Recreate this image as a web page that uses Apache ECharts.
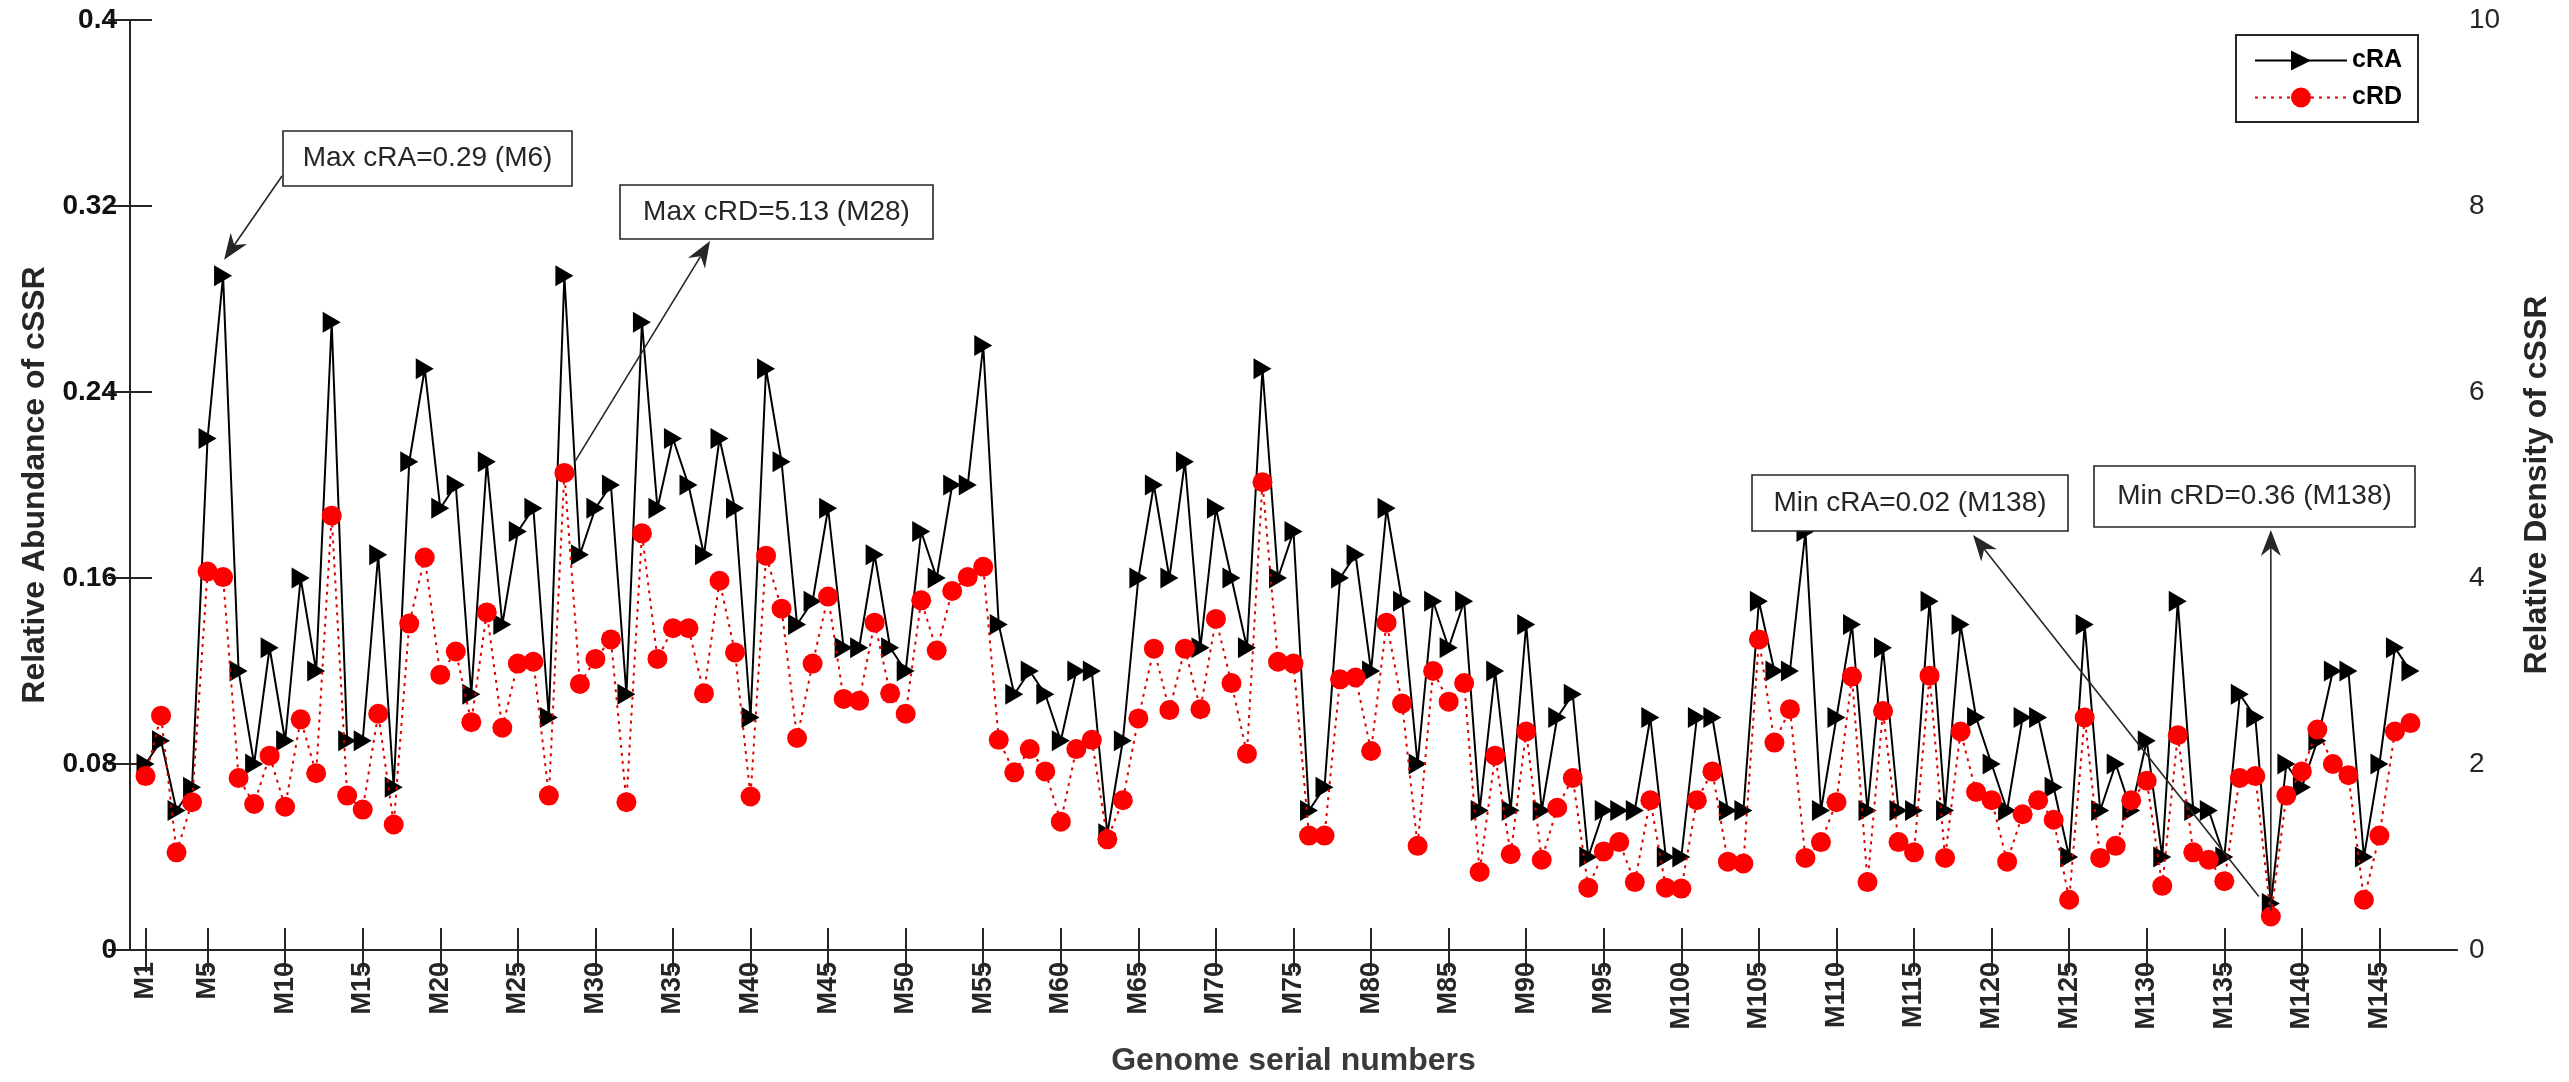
<!DOCTYPE html>
<html>
<head>
<meta charset="utf-8">
<title>cRA / cRD</title>
<script src="https://cdn.jsdelivr.net/npm/echarts@6/dist/echarts.min.js"></script>
<style>
  html, body { margin: 0; padding: 0; background: #fff; }
  #chart { width: 2569px; height: 1082px; }
</style>
</head>
<body>
<div id="chart"></div>
<script>
// relative abundance (left axis), genomes M1..M147
const craValues = [
  0.08, 0.09, 0.06, 0.07, 0.22, 0.29, 0.12, 0.08, 0.13, 0.09,
  0.16, 0.12, 0.27, 0.09, 0.09, 0.17, 0.07, 0.21, 0.25, 0.19,
  0.20, 0.11, 0.21, 0.14, 0.18, 0.19, 0.10, 0.29, 0.17, 0.19,
  0.20, 0.11, 0.27, 0.19, 0.22, 0.20, 0.17, 0.22, 0.19, 0.10,
  0.25, 0.21, 0.14, 0.15, 0.19, 0.13, 0.13, 0.17, 0.13, 0.12,
  0.18, 0.16, 0.20, 0.20, 0.26, 0.14, 0.11, 0.12, 0.11, 0.09,
  0.12, 0.12, 0.05, 0.09, 0.16, 0.20, 0.16, 0.21, 0.13, 0.19,
  0.16, 0.13, 0.25, 0.16, 0.18, 0.06, 0.07, 0.16, 0.17, 0.12,
  0.19, 0.15, 0.08, 0.15, 0.13, 0.15, 0.06, 0.12, 0.06, 0.14,
  0.06, 0.10, 0.11, 0.04, 0.06, 0.06, 0.06, 0.10, 0.04, 0.04,
  0.10, 0.10, 0.06, 0.06, 0.15, 0.12, 0.12, 0.18, 0.06, 0.10,
  0.14, 0.06, 0.13, 0.06, 0.06, 0.15, 0.06, 0.14, 0.10, 0.08,
  0.06, 0.10, 0.10, 0.07, 0.04, 0.14, 0.06, 0.08, 0.06, 0.09,
  0.04, 0.15, 0.06, 0.06, 0.04, 0.11, 0.10, 0.02, 0.08, 0.07,
  0.09, 0.12, 0.12, 0.04, 0.08, 0.13, 0.12
];

// relative density (right axis)
const crdValues = [
  1.87, 2.52, 1.05, 1.59, 4.07, 4.01, 1.85, 1.57, 2.09, 1.54,
  2.48, 1.90, 4.67, 1.66, 1.51, 2.54, 1.35, 3.51, 4.22, 2.96,
  3.21, 2.45, 3.63, 2.39, 3.08, 3.10, 1.66, 5.13, 2.86, 3.13,
  3.34, 1.59, 4.48, 3.13, 3.46, 3.46, 2.76, 3.97, 3.20, 1.65,
  4.24, 3.67, 2.28, 3.08, 3.80, 2.70, 2.68, 3.52, 2.76, 2.54,
  3.76, 3.22, 3.86, 4.01, 4.12, 2.26, 1.91, 2.16, 1.92, 1.38,
  2.16, 2.26, 1.19, 1.61, 2.49, 3.24, 2.58, 3.24, 2.59, 3.56,
  2.87, 2.11, 5.03, 3.10, 3.08, 1.23, 1.23, 2.91, 2.93, 2.14,
  3.52, 2.65, 1.12, 3.00, 2.67, 2.87, 0.84, 2.09, 1.03, 2.35,
  0.97, 1.53, 1.85, 0.67, 1.06, 1.16, 0.73, 1.61, 0.67, 0.66,
  1.61, 1.92, 0.95, 0.93, 3.34, 2.23, 2.59, 0.99, 1.16, 1.59,
  2.94, 0.73, 2.57, 1.16, 1.05, 2.95, 0.99, 2.35, 1.70, 1.61,
  0.95, 1.46, 1.61, 1.40, 0.54, 2.50, 0.99, 1.12, 1.61, 1.82,
  0.69, 2.31, 1.05, 0.97, 0.74, 1.85, 1.87, 0.36, 1.66, 1.92,
  2.37, 2.00, 1.88, 0.54, 1.23, 2.35, 2.44
];

// genome numbers that get a tick + label
const tickGenomes = [1, 5, 10, 15, 20, 25, 30, 35, 40, 45, 50, 55, 60, 65, 70, 75,
  80, 85, 90, 95, 100, 105, 110, 115, 120, 125, 130, 135, 140, 145];

const font = '"Liberation Sans", Arial, Helvetica, sans-serif';
const ink = '#262626';

const craPoints = craValues.map((v, i) => [i + 1, v]);
const crdPoints = crdValues.map((v, i) => [i + 1, v]);

// inward ticks on every side, MATLAB box style
const tickIn = () => ({ show: true, inside: true, length: 22, lineStyle: { color: ink, width: 2 } });
const lineAxis = { show: true, lineStyle: { color: ink, width: 2 } };

const option = {
  backgroundColor: '#fff',
  animation: false,
  grid: { left: 130, right: 112, top: 20, bottom: 132 },
  legend: {
    orient: 'vertical',
    right: 151,
    top: 35,
    padding: [13, 16, 12, 18],
    itemGap: 12,
    itemWidth: 92,
    itemHeight: 25,
    borderColor: ink,
    borderWidth: 2,
    backgroundColor: '#fff',
    textStyle: { fontFamily: font, fontSize: 25, fontWeight: 'bold', color: '#000' },
    data: ['cRA', 'cRD']
  },
  xAxis: [
    {
      type: 'value',
      min: 0,
      max: 150,
      position: 'bottom',
      name: 'Genome serial numbers',
      nameLocation: 'middle',
      nameGap: 95,
      nameTextStyle: { fontFamily: font, fontSize: 32, fontWeight: 'bold', color: '#3a3a3a' },
      axisLine: lineAxis,
      axisTick: Object.assign(tickIn(), { customValues: tickGenomes }),
      axisLabel: {
        customValues: tickGenomes,
        rotate: 90,
        margin: 12,
        formatter: (v) => 'M' + v,
        fontFamily: font, fontSize: 27, fontWeight: 'bold', color: ink
      },
      splitLine: { show: false }
    },
    {
      type: 'value',
      min: 0,
      max: 150,
      position: 'top',
      axisLine: lineAxis,
      axisTick: Object.assign(tickIn(), { customValues: tickGenomes }),
      axisLabel: { show: false },
      splitLine: { show: false }
    }
  ],
  yAxis: [
    {
      type: 'value',
      position: 'left',
      min: 0,
      max: 0.4,
      interval: 0.08,
      name: 'Relative Abundance of cSSR',
      nameLocation: 'middle',
      nameRotate: 90,
      nameGap: 77,
      nameTextStyle: { fontFamily: font, fontSize: 32, fontWeight: 'bold', color: ink },
      axisLine: lineAxis,
      axisTick: tickIn(),
      axisLabel: {
        margin: 13,
        formatter: (v) => String(+v.toFixed(2)),
        fontFamily: font, fontSize: 28, fontWeight: 'bold', color: '#111'
      },
      splitLine: { show: false }
    },
    {
      type: 'value',
      position: 'right',
      min: 0,
      max: 10,
      interval: 2,
      name: 'Relative Density of cSSR',
      nameLocation: 'middle',
      nameRotate: 90,
      nameGap: 64,
      nameTextStyle: { fontFamily: font, fontSize: 32, fontWeight: 'bold', color: ink },
      axisLine: lineAxis,
      axisTick: tickIn(),
      axisLabel: { margin: 12, fontFamily: font, fontSize: 28, color: ink },
      splitLine: { show: false }
    }
  ],
  series: [
    {
      name: 'cRA',
      type: 'line',
      xAxisIndex: 0,
      yAxisIndex: 0,
      data: craPoints,
      symbol: 'triangle',
      symbolRotate: -90,
      symbolSize: [21, 18],
      showAllSymbol: true,
      lineStyle: { color: '#000', width: 2 },
      itemStyle: { color: '#000' },
      z: 3
    },
    {
      name: 'cRD',
      type: 'line',
      xAxisIndex: 0,
      yAxisIndex: 1,
      data: crdPoints,
      symbol: 'circle',
      symbolSize: 20,
      showAllSymbol: true,
      lineStyle: { color: '#e00000', width: 2, type: [3, 5] },
      itemStyle: { color: '#ff0000' },
      z: 4
    }
  ]
};

const chart = echarts.init(document.getElementById('chart'));
chart.setOption(option);

// annotation boxes (pixel boxes) with arrows anchored on data points
function dataPx(seriesIndex, genome) {
  const vals = seriesIndex === 0 ? craValues : crdValues;
  return chart.convertToPixel({ seriesIndex: seriesIndex }, [genome, vals[genome - 1]]);
}

function arrow(from, to) {
  const dx = to[0] - from[0];
  const dy = to[1] - from[1];
  const len = Math.hypot(dx, dy);
  const ux = dx / len, uy = dy / len;
  const nx = -uy, ny = ux;
  const L = 26, W = 10, N = 8;
  const bx = to[0] - ux * L, by = to[1] - uy * L;
  const notch = [to[0] - ux * (L - N), to[1] - uy * (L - N)];
  return [
    {
      type: 'line', z: 100,
      shape: { x1: from[0], y1: from[1], x2: notch[0], y2: notch[1] },
      style: { stroke: ink, lineWidth: 1.6 }
    },
    {
      type: 'polygon', z: 100,
      shape: { points: [to, [bx + nx * W, by + ny * W], notch, [bx - nx * W, by - ny * W]] },
      style: { fill: ink }
    }
  ];
}

function box(text, x, y, w, h) {
  return [
    {
      type: 'rect', z: 100,
      shape: { x: x, y: y, width: w, height: h },
      style: { fill: '#fff', stroke: ink, lineWidth: 1.6 }
    },
    {
      type: 'text', z: 101,
      style: {
        x: x + w / 2, y: y + h / 2, text: text,
        align: 'center', verticalAlign: 'middle',
        fontFamily: font, fontSize: 28, fill: ink
      }
    }
  ];
}

const maxRA = dataPx(0, 6);
const maxRD = dataPx(1, 28);
const minRA = dataPx(0, 138);
const minRD = dataPx(1, 138);

const graphics = [].concat(
  box('Max cRA=0.29 (M6)', 283, 131, 289, 55),
  arrow([282, 176], [maxRA[0] + 1, maxRA[1] - 16]),
  box('Max cRD=5.13 (M28)', 620, 185, 313, 54),
  arrow([maxRD[0] + 11, maxRD[1] - 12], [710, 241]),
  box('Min cRA=0.02 (M138)', 1752, 475, 316, 56),
  arrow([minRA[0] - 12, minRA[1] - 7], [1973, 535]),
  box('Min cRD=0.36 (M138)', 2094, 466, 321, 61),
  arrow([minRD[0], minRD[1] - 6], [minRD[0], 530])
);

chart.setOption({ graphic: graphics });
</script>
</body>
</html>
